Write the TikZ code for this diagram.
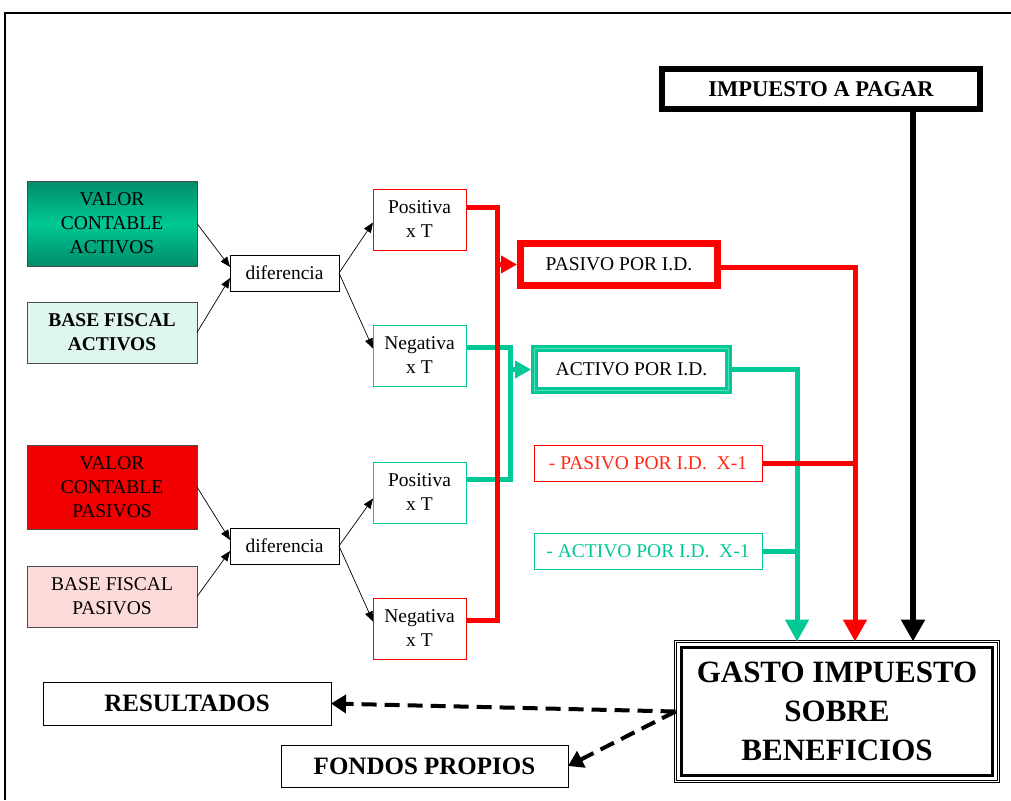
\documentclass[tikz,border=0pt]{standalone}
\usepackage{fontspec}
\setmainfont{Liberation Serif}
\usetikzlibrary{arrows.meta}
\definecolor{tl}{RGB}{0,200,150}
\definecolor{tldark}{RGB}{0,140,105}
\definecolor{tllight}{RGB}{90,220,185}
\definecolor{rd}{RGB}{255,0,0}
\definecolor{rdtext}{RGB}{255,40,20}
\definecolor{bfafill}{RGB}{222,246,238}
\definecolor{bfpfill}{RGB}{252,218,218}
\definecolor{vcpfill}{RGB}{240,0,0}
\begin{document}
\begin{tikzpicture}[x=1pt,y=-1pt,
  font=\fontsize{19.5}{24}\selectfont,
  box/.style={draw, rectangle, align=center, inner sep=0pt, outer sep=0pt},
  graybox/.style={box, draw=black!70, line width=0.6pt},
  redbox/.style={box, draw=rd, line width=0.8pt},
  tlbox/.style={box, draw=tl, line width=0.8pt},
  thinarrow/.style={line width=0.7pt, -{Triangle[length=10pt,width=8pt]}},
  redline/.style={draw=rd, line width=5pt},
  tlline/.style={draw=tl, line width=5pt},
  bigtip/.style={-{Triangle[length=22pt,width=23pt]}},
  midtip/.style={-{Triangle[length=16pt,width=17pt]}},
  dashedarrow/.style={line width=4pt, dash pattern=on 15pt off 8pt, -{Triangle[length=15pt,width=18pt]}}
]
\useasboundingbox (0,0) rectangle (1011,800);
\draw[line width=2.5pt] (5,800) -- (5,13) -- (1011,13);

% left column
\node[graybox, minimum width=170pt, minimum height=85pt, top color=tldark, bottom color=tldark, middle color=tl] (vca) at (112,223.5) {VALOR\\CONTABLE\\ACTIVOS};
\node[graybox, minimum width=170pt, minimum height=61pt, fill=bfafill, font=\fontsize{19.5}{24}\selectfont\bfseries] (bfa) at (112,332.5) {BASE FISCAL\\ACTIVOS};
\node[graybox, minimum width=170pt, minimum height=84pt, fill=vcpfill] (vcp) at (112,487) {VALOR\\CONTABLE\\PASIVOS};
\node[graybox, minimum width=170pt, minimum height=61pt, fill=bfpfill] (bfp) at (112,596.5) {BASE FISCAL\\PASIVOS};

\node[box, line width=0.7pt, minimum width=109pt, minimum height=36pt] (dif1) at (284.5,273) {diferencia};
\node[box, line width=0.7pt, minimum width=109pt, minimum height=36pt] (dif2) at (284.5,546) {diferencia};

\node[redbox, minimum width=93pt, minimum height=61pt] (pos1) at (419.5,219.5) {Positiva\\x T};
\node[tlbox, minimum width=93pt, minimum height=61pt] (neg1) at (419.5,355.5) {Negativa\\x T};
\node[tlbox, minimum width=93pt, minimum height=61pt] (pos2) at (419.5,492.5) {Positiva\\x T};
\node[redbox, minimum width=93pt, minimum height=61pt] (neg2) at (419.5,628.5) {Negativa\\x T};

\node[box, draw=rd, line width=7pt, minimum width=197pt, minimum height=42pt] (pas) at (619,264.5) {PASIVO POR I.D.};
\node[box, draw=tl, double=tllight, double distance=1pt, line width=3pt, minimum width=194pt, minimum height=42pt] (act) at (631.5,369.5) {ACTIVO POR I.D.};
\node[redbox, text=rdtext, minimum width=228pt, minimum height=36pt] (pasx) at (648,463) {- PASIVO POR I.D.\ \ X-1};
\node[tlbox, text=tl, minimum width=228pt, minimum height=36pt] (actx) at (648,551) {- ACTIVO POR I.D.\ \ X-1};

\node[box, line width=6pt, minimum width=318pt, minimum height=40pt, font=\fontsize{22.5}{26}\selectfont\bfseries] (imp) at (821,89) {IMPUESTO A PAGAR};

\node[box, line width=1pt, double, double distance=1.2pt, minimum width=323pt, minimum height=140pt, font=\fontsize{31}{39}\selectfont\bfseries] (gasto) at (837,711.5) {GASTO IMPUESTO\\SOBRE\\BENEFICIOS};
\draw[line width=2.2pt] ([shift={(6,6)}]gasto.north west) rectangle ([shift={(-6,-6)}]gasto.south east);

\node[box, line width=0.7pt, minimum width=288pt, minimum height=43pt, font=\fontsize{25}{30}\selectfont\bfseries] (res) at (187,703.5) {RESULTADOS};
\node[box, line width=0.7pt, minimum width=287pt, minimum height=42pt, font=\fontsize{25}{30}\selectfont\bfseries] (fon) at (424.5,766) {FONDOS PROPIOS};

% thin arrows
\draw[thinarrow] (vca.east) -- ([yshift=6pt]dif1.west);
\draw[thinarrow] (bfa.east) -- ([yshift=-5pt]dif1.west);
\draw[thinarrow] (dif1.east) -- ([yshift=-3pt]pos1.west);
\draw[thinarrow] (dif1.east) -- ([yshift=7pt]neg1.west);
\draw[thinarrow] (vcp.east) -- ([yshift=6pt]dif2.west);
\draw[thinarrow] (bfp.east) -- ([yshift=-5pt]dif2.west);
\draw[thinarrow] (dif2.east) -- ([yshift=-6pt]pos2.west);
\draw[thinarrow] (dif2.east) -- ([yshift=7pt]neg2.west);

% junction coordinates
\coordinate (rv) at (497,264.5);
\coordinate (tv) at (510,369.5);

% teal collectors (below red)
\draw[tlline] ([yshift=8.5pt]neg1.east) -| (tv);
\draw[tlline] ([yshift=13.5pt]pos2.east) -| (tv);
\draw[tlline, midtip, shorten >=3.5pt] (tv) -- (act.west);

% red collectors
\draw[redline] ([yshift=12.5pt]pos1.east) -| (rv);
\draw[redline] ([yshift=8.5pt]neg2.east) -| (rv);
\draw[redline, midtip, shorten >=3.5pt] (rv) -- (pas.west);

% right side
\draw[tlline, bigtip] (act.east) -| ([xshift=-40pt]gasto.north);
\draw[tlline] (actx.east) -- ([xshift=-40pt]gasto.north |- actx.east);
\draw[redline, bigtip] ([yshift=-3pt]pas.east) -| ([xshift=18pt]gasto.north);
\draw[redline] (pasx.east) -- ([xshift=18pt]gasto.north |- pasx.east);
\draw[line width=6pt, bigtip] ([xshift=92pt]imp.south) -- ([xshift=76pt]gasto.north);

% dashed outputs
\draw[dashedarrow] (gasto.west) -- (res.east);
\draw[dashedarrow] (gasto.west) -- (fon.east);
\end{tikzpicture}
\end{document}
